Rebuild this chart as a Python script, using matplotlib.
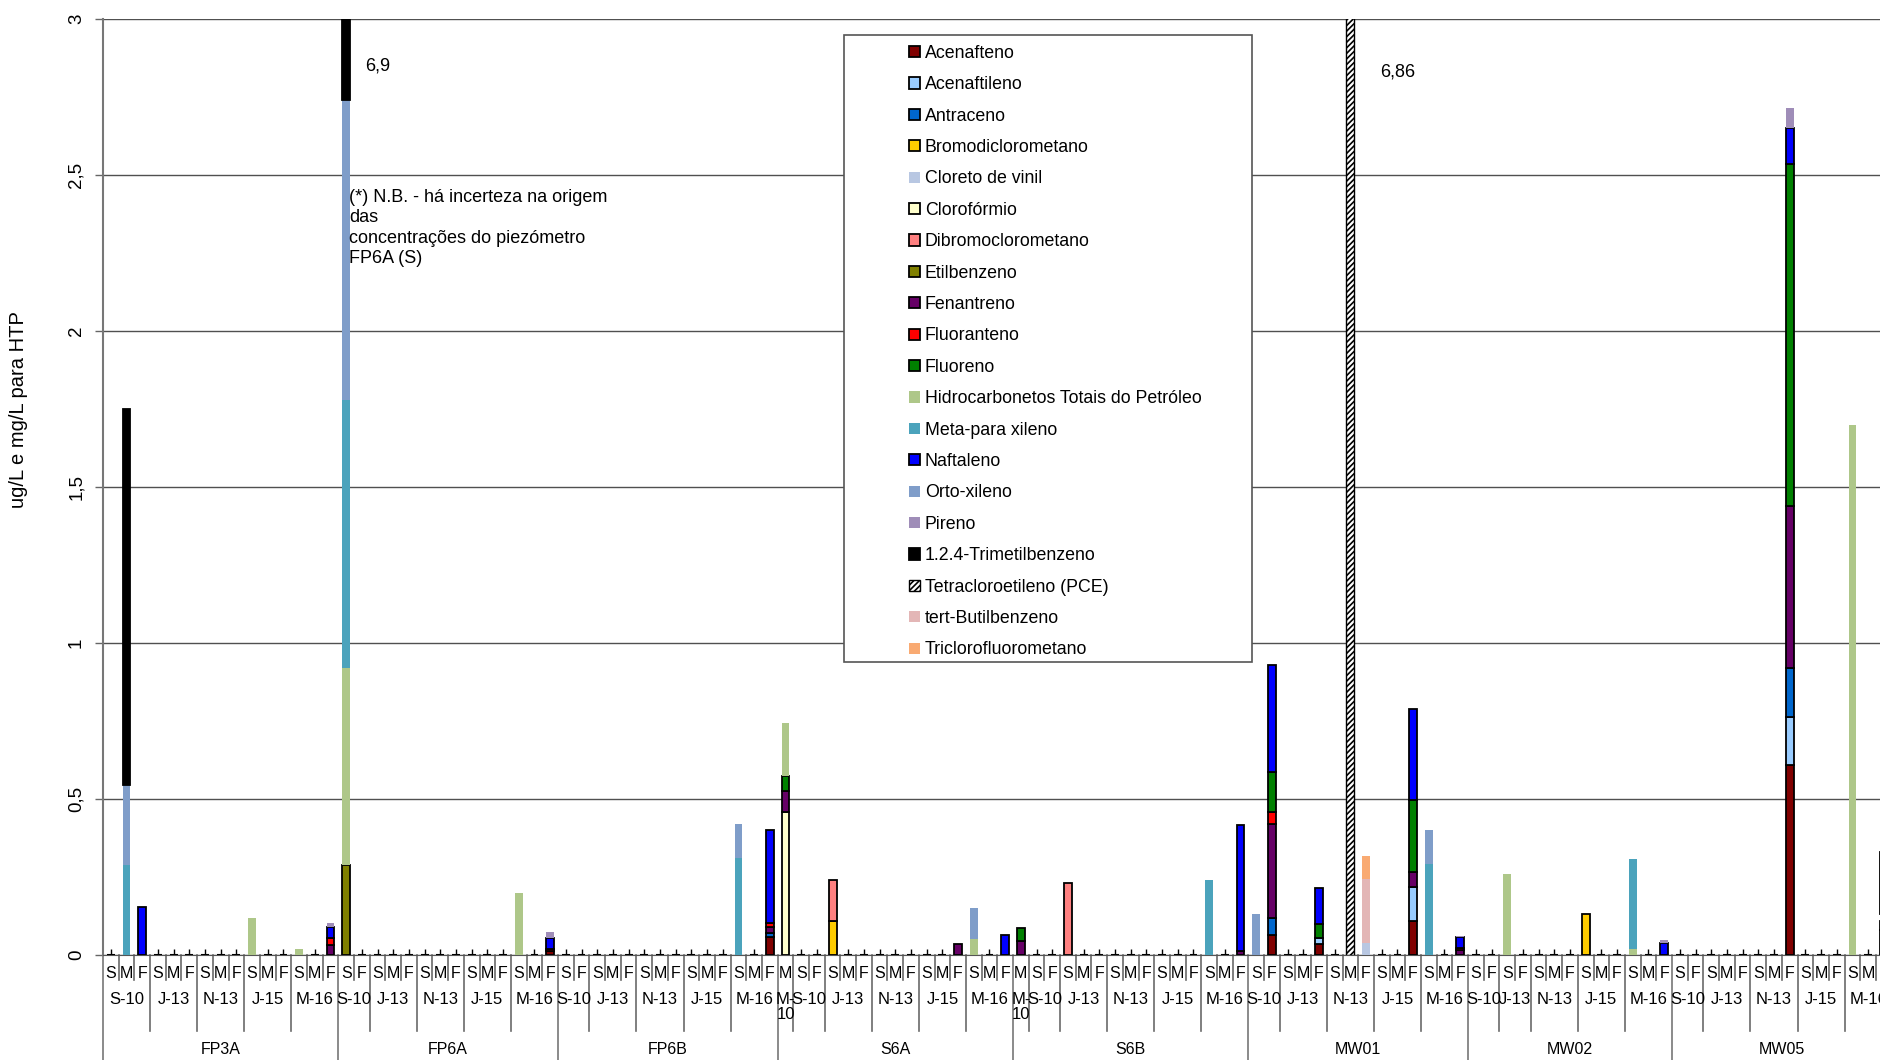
import matplotlib.pyplot as plt
from matplotlib.patches import Rectangle
import numpy as np

plt.rcParams['font.family'] = ['Liberation Sans', 'DejaVu Sans']
plt.rcParams['hatch.linewidth'] = 1.2
NARROW = ['Liberation Sans Narrow', 'Liberation Sans', 'DejaVu Sans']

wells = ["FP3A", "FP6A", "FP6B", "S6A", "S6B", "MW01", "MW02", "MW05"]
dates = ["M-10", "S-10", "J-13", "N-13", "J-15", "M-16"]
# campanhas amostradas (S, M, F) por poço e data
campaigns = {
    "FP3A": ["", "SMF", "SMF", "SMF", "SMF", "SMF"],
    "FP6A": ["", "SF", "SMF", "SMF", "SMF", "SMF"],
    "FP6B": ["", "SF", "SMF", "SMF", "SMF", "SMF"],
    "S6A": ["M", "SF", "SMF", "SMF", "SMF", "SMF"],
    "S6B": ["M", "SF", "SMF", "SMF", "SMF", "SMF"],
    "MW01": ["", "SF", "SMF", "SMF", "SMF", "SMF"],
    "MW02": ["", "SF", "SF", "SMF", "SMF", "SMF"],
    "MW05": ["", "SF", "SMF", "SMF", "SMF", "SMF"],
}

# valores (ug/L, mg/L para HTP) por "poço data campanha"
acenafteno = {"FP6A M-16 F": 0.012, "FP6B M-16 F": 0.059, "MW01 S-10 F": 0.063,
              "MW01 J-13 F": 0.035, "MW01 J-15 F": 0.11, "MW05 N-13 F": 0.61}
acenaftileno = {"MW01 J-13 F": 0.02, "MW01 J-15 F": 0.107, "MW05 N-13 F": 0.153}
antraceno = {"FP6B M-16 F": 0.012, "MW01 S-10 F": 0.055, "MW05 N-13 F": 0.157}
bromodiclorometano = {"S6A J-13 S": 0.108, "MW02 J-15 S": 0.13}
cloreto_vinil = {"MW01 N-13 F": 0.04}
cloroformio = {"S6A M-10 M": 0.457}
dibromoclorometano = {"S6A J-13 S": 0.131, "S6B J-13 S": 0.23}
etilbenzeno = {"FP6A S-10 S": 0.29}
fenantreno = {"FP3A M-16 F": 0.033, "FP6B M-16 F": 0.018, "S6A M-10 M": 0.068,
              "S6A J-15 F": 0.035, "S6B M-10 M": 0.045, "S6B M-16 F": 0.014,
              "MW01 S-10 F": 0.302, "MW01 J-15 F": 0.049, "MW01 M-16 F": 0.017,
              "MW05 N-13 F": 0.52, "MW05 M-16 F": 0.08}
fluoranteno = {"FP3A M-16 F": 0.02, "FP6A M-16 F": 0.006, "FP6B M-16 F": 0.013,
               "MW01 S-10 F": 0.037, "MW01 M-16 F": 0.007, "MW05 M-16 F": 0.03}
fluoreno = {"S6A M-10 M": 0.05, "S6B M-10 M": 0.043, "MW01 S-10 F": 0.128,
            "MW01 J-13 F": 0.045, "MW01 J-15 F": 0.232, "MW05 N-13 F": 1.095}
htp = {"FP3A J-15 S": 0.12, "FP3A M-16 S": 0.02, "FP6A S-10 S": 0.63, "FP6A M-16 S": 0.2,
       "S6A M-10 M": 0.17, "S6A M-16 S": 0.05, "MW02 J-13 S": 0.26, "MW02 M-16 S": 0.02,
       "MW05 M-16 S": 1.70}
meta_para_xileno = {"FP3A S-10 M": 0.29, "FP6A S-10 S": 0.86, "FP6B M-16 S": 0.31,
                    "S6B M-16 S": 0.24, "MW01 M-16 S": 0.291, "MW02 M-16 S": 0.287,
                    "MW05 M-16 F": 0.02}
naftaleno = {"FP3A S-10 F": 0.155, "FP3A M-16 F": 0.037, "FP6A M-16 F": 0.036,
             "FP6B M-16 F": 0.298, "S6A M-16 F": 0.063, "S6B M-16 F": 0.404,
             "MW01 S-10 F": 0.346, "MW01 J-13 F": 0.115, "MW01 J-15 F": 0.292,
             "MW01 M-16 F": 0.035, "MW02 M-16 F": 0.04, "MW05 N-13 F": 0.115,
             "MW05 M-16 F": 0.2}
orto_xileno = {"FP3A S-10 M": 0.255, "FP6A S-10 S": 0.96, "FP6B M-16 S": 0.11,
               "S6A M-16 S": 0.10, "MW01 S-10 S": 0.13, "MW01 M-16 S": 0.109}
pireno = {"FP3A M-16 F": 0.013, "FP6A M-16 F": 0.019, "MW01 M-16 F": 0.003,
          "MW02 M-16 F": 0.008, "MW05 N-13 F": 0.065}
trimetilbenzeno = {"FP3A S-10 M": 1.205, "FP6A S-10 S": 4.16}
pce = {"MW01 N-13 M": 6.86}
tert_butilbenzeno = {"MW01 N-13 F": 0.205}
triclorofluorometano = {"MW01 N-13 F": 0.073}

# nome, dados, cor, contorno preto
series = [
    ("Acenafteno", acenafteno, "#800000", True),
    ("Acenaftileno", acenaftileno, "#99CCFF", True),
    ("Antraceno", antraceno, "#0066CC", True),
    ("Bromodiclorometano", bromodiclorometano, "#FFCC00", True),
    ("Cloreto de vinil", cloreto_vinil, "#B8C7E2", False),
    ("Clorofórmio", cloroformio, "#FFFFCC", True),
    ("Dibromoclorometano", dibromoclorometano, "#FF8080", True),
    ("Etilbenzeno", etilbenzeno, "#808000", True),
    ("Fenantreno", fenantreno, "#660066", True),
    ("Fluoranteno", fluoranteno, "#FF0000", True),
    ("Fluoreno", fluoreno, "#008000", True),
    ("Hidrocarbonetos Totais do Petróleo", htp, "#AEC789", False),
    ("Meta-para xileno", meta_para_xileno, "#4BA3BC", False),
    ("Naftaleno", naftaleno, "#0000FF", True),
    ("Orto-xileno", orto_xileno, "#7F9DC9", False),
    ("Pireno", pireno, "#9F8DB8", False),
    ("1.2.4-Trimetilbenzeno", trimetilbenzeno, "#000000", True),
    ("Tetracloroetileno (PCE)", pce, "hatch", True),
    ("tert-Butilbenzeno", tert_butilbenzeno, "#E3B6B6", False),
    ("Triclorofluorometano", triclorofluorometano, "#F9AA72", False),
]

# categorias (eixo x hierárquico)
keys, well_spans, date_spans = [], [], []
for w in wells:
    w_start = len(keys)
    for d, letters in zip(dates, campaigns[w]):
        if not letters:
            continue
        d_start = len(keys)
        for c in letters:
            keys.append(f"{w} {d} {c}")
        date_spans.append((d, d_start, len(keys)))
    well_spans.append((w, w_start, len(keys)))
x = np.arange(len(keys))

fig = plt.figure(figsize=(18.81, 10.60), dpi=100)
ax_h = 936 / 1060
ax = fig.add_axes([103 / 1881, 105 / 1060, len(keys) * 15.69 / 1881, ax_h])

bottom = np.zeros(len(keys))
handles = []
for name, data, color, edged in series:
    h = np.array([data.get(k, 0.0) for k in keys])
    m = h > 0
    if color == "hatch":
        b = ax.bar(x[m], h[m], 0.5, bottom=bottom[m], facecolor="white",
                   edgecolor="black", hatch="//////", lw=1.0, label=name, zorder=3)
    else:
        b = ax.bar(x[m], h[m], 0.5, bottom=bottom[m], color=color,
                   edgecolor="black" if edged else "none", lw=1.3, label=name, zorder=3)
    handles.append(b)
    bottom += h

# pequenos traços das barras vazias
empty = bottom == 0
ax.hlines(np.zeros(empty.sum()), x[empty] - 0.25, x[empty] + 0.25, color="black", lw=1.5, zorder=3)

ax.set_xlim(-0.5, len(keys) - 0.5)
ax.set_ylim(0, 3)
ax.set_yticks(np.arange(0, 3.01, 0.5))
ax.set_yticklabels([f"{v:g}".replace(".", ",") for v in np.arange(0, 3.01, 0.5)],
                   rotation=90, va="center", fontsize=13.5)
ax.tick_params(axis="y", length=6, width=1, color="#666666", pad=7)
ax.set_xticks(x)
ax.tick_params(axis="x", direction="in", length=4, width=1, color="black", labelbottom=False)
ax.yaxis.grid(True, color="#505050", lw=1)
ax.set_axisbelow(True)
for s in ["top", "right"]:
    ax.spines[s].set_visible(False)
ax.spines["left"].set_color("#777777")
ax.spines["left"].set_linewidth(1.5)
ax.spines["bottom"].set_color("#555555")

# rótulos hierárquicos do eixo x
tr = ax.get_xaxis_transform()
def yoff(px):
    return -px / 936

well_starts = {s for _, s, _ in well_spans} | {len(keys)}
date_starts = {s for _, s, _ in date_spans}
for bnd in range(len(keys) + 1):
    if bnd in well_starts:
        depth, col = 120, "#777777"
    elif bnd in date_starts:
        depth, col = 76, "#6a6a6a"
    else:
        depth, col = 25, "#6a6a6a"
    ax.plot([bnd - 0.5, bnd - 0.5], [0, yoff(depth)], transform=tr, color=col,
            lw=1.2, clip_on=False)
for i, k in enumerate(keys):
    ax.text(i, yoff(18), k.split()[-1], transform=tr, ha="center", va="center",
            fontsize=11.5, family=NARROW)
for d, s, e in date_spans:
    lab = "M-\n10" if d == "M-10" else d
    ax.text((s + e - 1) / 2, yoff(37), lab, transform=tr, ha="center", va="top",
            fontsize=12, linespacing=1.0, family=NARROW)
for w, s, e in well_spans:
    ax.text((s + e - 1) / 2, yoff(95), w, transform=tr, ha="center", va="center",
            fontsize=11.5, family=NARROW)

fig.text(19 / 1881, 1 - 410 / 1060, "ug/L e mg/L para HTP", rotation=90,
         ha="center", va="center", fontsize=14.5)

# anotações
ax.text(16.2, 2.85, "6,9", fontsize=13, va="center")
ax.text(80.9, 2.83, "6,86", fontsize=13, va="center")
ax.text(15.2, 2.455, "(*) N.B. - há incerteza na origem\ndas\nconcentrações do piezómetro\nFP6A (S)",
        fontsize=13, va="top", linespacing=1.25, zorder=4)

# caixa da legenda
ax.add_patch(Rectangle((844 / 1881, 1 - 662 / 1060), 408 / 1881, 627 / 1060,
                       transform=fig.transFigure, facecolor="white",
                       edgecolor="#555555", lw=1.2, zorder=5, clip_on=False))
leg = ax.legend(handles=handles, loc="upper left", bbox_to_anchor=(900 / 1881, 1 - 36 / 1060),
                bbox_transform=fig.transFigure, frameon=False, fontsize=12.8,
                handlelength=0.6, handleheight=0.6, handletextpad=0.3,
                labelspacing=0.81, borderpad=0)
leg.set_zorder(6)

fig.savefig("out.png", dpi=100)
